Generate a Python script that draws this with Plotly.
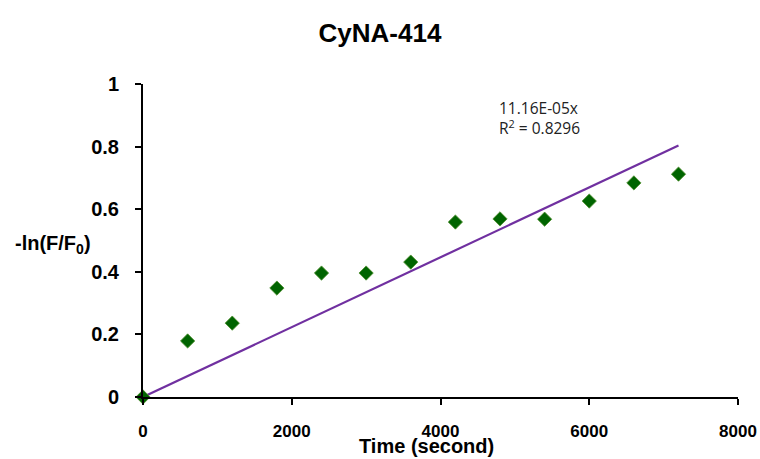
import plotly.graph_objects as go

time_s = [0, 600, 1200, 1800, 2400, 3000, 3600, 4200, 4800, 5400, 6000, 6600, 7200]
neg_ln = [0.0, 0.179, 0.236, 0.348, 0.396, 0.396, 0.431, 0.559, 0.569, 0.568, 0.626, 0.684, 0.712]
slope = 1.116e-4
r2_text = "0.8296"
x_ticks = [0, 2000, 4000, 6000, 8000]
y_ticks = [0, 0.2, 0.4, 0.6, 0.8, 1]

trend_x = [time_s[0], time_s[-1]]
trend_y = [slope * v for v in trend_x]

fig = go.Figure()
fig.add_trace(go.Scatter(x=trend_x, y=trend_y, mode="lines",
                         line=dict(color="#7030A0", width=2.2), showlegend=False))
fig.add_trace(go.Scatter(x=time_s, y=neg_ln, mode="markers",
                         marker=dict(symbol="diamond", size=11, color="#006400",
                                     line=dict(color="#4f8f2f", width=0.8)),
                         showlegend=False, cliponaxis=False))

fig.update_layout(
    width=760, height=459,
    margin=dict(l=143, r=22, t=84, b=62, autoexpand=False),
    paper_bgcolor="white", plot_bgcolor="white",
    title=dict(text="<b>CyNA-414</b>", x=380 / 760, xanchor="center",
               y=1 - 33 / 459, yanchor="middle",
               font=dict(family="Liberation Sans, Arial", size=26, color="black")),
    font=dict(family="Liberation Sans, Arial", color="black"),
    xaxis=dict(range=[0, 8000], tickvals=x_ticks, ticktext=[f"<b>{v}</b>" for v in x_ticks],
               showline=True, linecolor="black", linewidth=2, ticks="outside", ticklen=6,
               tickwidth=2, tickcolor="black", showgrid=False, zeroline=False,
               tickfont=dict(size=17), ticklabelstandoff=12, automargin=False),
    yaxis=dict(range=[0, 1], tickvals=y_ticks,
               ticktext=["<b>0</b>", "<b>0.2</b>", "<b>0.4</b>", "<b>0.6</b>", "<b>0.8</b>", "<b>1</b>"],
               showline=True, linecolor="black", linewidth=2, ticks="outside", ticklen=6,
               tickwidth=2, tickcolor="black", showgrid=False, zeroline=False,
               tickfont=dict(size=20), ticklabelstandoff=12, automargin=False),
    annotations=[
        dict(text="<b>-ln(F/F<sub>0</sub>)</b>", xref="paper", yref="paper",
             x=(53 - 143) / 595, y=(397 - 244) / 313,
             xanchor="center", yanchor="middle", showarrow=False,
             font=dict(size=20, color="black")),
        dict(text="<b>Time (second)</b>", xref="paper", yref="paper",
             x=(426 - 143) / 595, y=0, yshift=-49,
             xanchor="center", yanchor="middle", showarrow=False,
             font=dict(size=20, color="black")),
        dict(text="11.16E-05x<br>R<sup>2</sup> = " + r2_text, xref="x", yref="y",
             x=4760, y=0.965, xanchor="left", yanchor="top", align="left", showarrow=False,
             font=dict(family="Open Sans, Lato", size=15.5, color="#222")),
    ],
)

fig.write_html("out.html", config={"displayModeBar": False},
               post_script="document.body.style.margin='0';")
